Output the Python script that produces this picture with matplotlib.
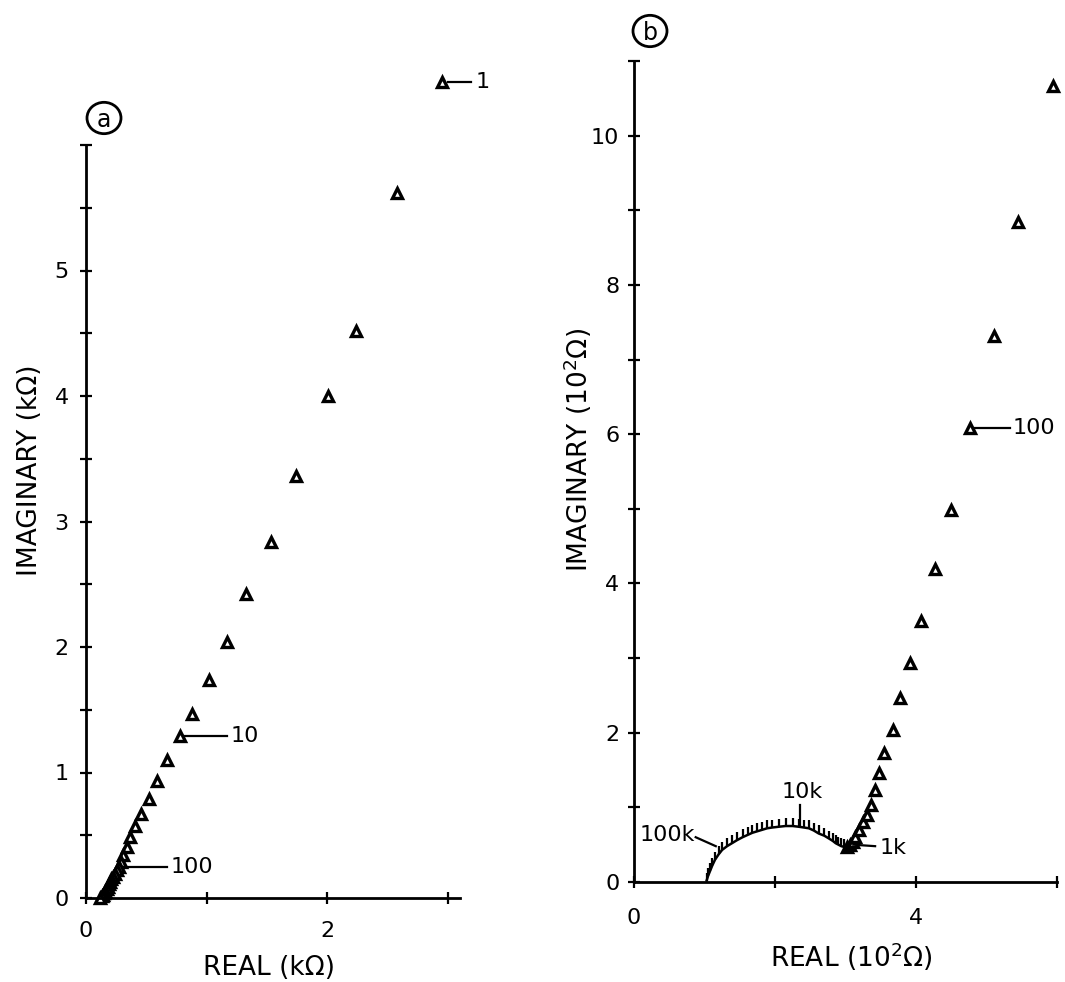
import numpy as np
import matplotlib
matplotlib.use("Agg")
import matplotlib.pyplot as plt
from matplotlib.patches import Circle

plt.rcParams['font.family'] = ['DejaVu Sans']

# panel (a): impedance in kOhm
a_re = [2.95, 2.58, 2.24, 2.01, 1.74, 1.53, 1.33, 1.17, 1.02, 0.88, 0.78, 0.675,
        0.59, 0.52, 0.46, 0.41, 0.365, 0.34, 0.31, 0.29, 0.27, 0.255, 0.24, 0.225,
        0.21, 0.20, 0.19, 0.18, 0.17, 0.16, 0.15, 0.14, 0.13, 0.12]
a_im = [6.50, 5.62, 4.52, 4.00, 3.36, 2.84, 2.42, 2.04, 1.74, 1.47, 1.29, 1.10,
        0.93, 0.79, 0.67, 0.57, 0.49, 0.41, 0.34, 0.29, 0.25, 0.22, 0.19, 0.17,
        0.15, 0.13, 0.11, 0.09, 0.07, 0.055, 0.04, 0.025, 0.012, 0.0]

# panel (b): impedance in 10^2 Ohm, high-frequency arc then low-frequency tail
b_arc_re = [1.03, 1.05, 1.08, 1.11, 1.15, 1.20, 1.25, 1.32, 1.39, 1.46, 1.54, 1.61,
            1.68, 1.75, 1.82, 1.89, 1.96, 2.05, 2.15, 2.25, 2.34, 2.41, 2.48, 2.55,
            2.62, 2.70, 2.77, 2.82, 2.86, 2.90, 2.94, 2.98]
b_arc_im = [0.02, 0.08, 0.15, 0.22, 0.30, 0.37, 0.43, 0.48, 0.52, 0.56, 0.60, 0.63,
            0.66, 0.68, 0.70, 0.72, 0.73, 0.74, 0.75, 0.75, 0.74, 0.73, 0.72, 0.69,
            0.65, 0.62, 0.58, 0.55, 0.52, 0.50, 0.48, 0.47]
b_tail_re = [3.02, 3.06, 3.10, 3.14, 3.19, 3.25, 3.30, 3.36, 3.42, 3.48, 3.55, 3.67,
             3.77, 3.92, 4.07, 4.27, 4.50, 4.77, 5.10, 5.45, 5.94]
b_tail_im = [0.47, 0.49, 0.53, 0.60, 0.70, 0.80, 0.90, 1.03, 1.23, 1.46, 1.73, 2.04,
             2.46, 2.93, 3.50, 4.19, 4.99, 6.08, 7.32, 8.84, 10.67]

W, H = 1065, 982
fig = plt.figure(figsize=(W / 100, H / 100), dpi=100)


def px_axes(left, right, bottom, top):
    return fig.add_axes([left / W, 1 - bottom / H, (right - left) / W, (bottom - top) / H])


def style(ax):
    for s in ['top', 'right']:
        ax.spines[s].set_visible(False)
    for s in ['left', 'bottom']:
        ax.spines[s].set_linewidth(2)
    ax.tick_params(direction='inout', length=9, width=1.6, labelsize=16)


tri = dict(marker='^', ms=7.5, mfc='white', mec='black', mew=2.4, ls='none', clip_on=False)
lab = dict(fontsize=16)
lk = dict(color='black', lw=1.6, clip_on=False)

# ---- panel a
ax1 = px_axes(86, 460, 898, 145)
style(ax1)
ax1.set_xlim(0, 3.1)
ax1.set_ylim(0, 6)
ax1.plot(a_re, a_im, **tri)
ax1.set_xticks([0, 1, 2, 3])
ax1.set_xticklabels(['0', '', '2', ''])
yt = np.arange(0, 6.01, 0.5)
ax1.set_yticks(yt)
ax1.set_yticklabels([str(int(v)) if v == int(v) and v < 6 else '' for v in yt])
ax1.tick_params(axis='x', pad=12)
ax1.tick_params(axis='y', pad=8)
ax1.plot([3.00, 3.19], [6.5, 6.5], **lk)
ax1.text(3.23, 6.5, '1', va='center', **lab)
ax1.plot([0.81, 1.17], [1.29, 1.29], **lk)
ax1.text(1.20, 1.29, '10', va='center', **lab)
ax1.plot([0.30, 0.67], [0.25, 0.25], **lk)
ax1.text(0.70, 0.25, '100', va='center', **lab)
fig.text(269 / W, 1 - 968 / H, 'REAL (k\u03a9)', ha='center', va='center', fontsize=19)
fig.text(30 / W, 1 - 470 / H, 'IMAGINARY (k\u03a9)', ha='center', va='center',
         rotation=90, fontsize=19)

# ---- panel b
ax2 = px_axes(634, 1057, 882, 61)
style(ax2)
ax2.set_xlim(0, 6)
ax2.set_ylim(0, 11)
# arc drawn as a line with small upward ticks, like the original
ax2.plot(b_arc_re, b_arc_im, color='black', lw=1.8)
ax2.plot(b_arc_re, b_arc_im, marker=2, ms=6, mec='black', mew=1.6, ls='none')
ax2.plot(b_tail_re, b_tail_im, **tri)
ax2.set_xticks([0, 2, 4, 6])
ax2.set_xticklabels(['0', '', '4', ''])
ax2.set_yticks(range(0, 12))
ax2.set_yticklabels([str(v) if v % 2 == 0 and v < 11 else '' for v in range(0, 12)])
ax2.tick_params(axis='x', pad=14)
ax2.tick_params(axis='y', pad=6)
ax2.plot([4.84, 5.33], [6.08, 6.08], **lk)
ax2.text(5.37, 6.08, '100', va='center', **lab)
ax2.plot([3.11, 3.42], [0.50, 0.48], **lk)
ax2.text(3.48, 0.46, '1k', va='center', **lab)
ax2.plot([2.36, 2.36], [0.75, 1.03], **lk)
ax2.text(2.38, 1.21, '10k', ha='center', va='center', **lab)
ax2.plot([0.875, 1.16], [0.60, 0.48], **lk)
ax2.text(0.86, 0.63, '100k', ha='right', va='center', **lab)
fig.text(851 / W, 1 - 957 / H, 'REAL (10$^2$\u03a9)', ha='center', va='center', fontsize=19)
fig.text(578 / W, 1 - 450 / H, 'IMAGINARY (10$^2$\u03a9)', ha='center', va='center',
         rotation=90, fontsize=19)

# panel tags
for cx, cy, t in [(104, 118, 'a'), (650, 31, 'b')]:
    fig.patches.append(Circle((cx / W, 1 - cy / H), 17 / W, transform=fig.transFigure,
                              fill=False, lw=2, ec='black'))
    fig.text(cx / W, 1 - cy / H - 0.002, t, ha='center', va='center', fontsize=17)

fig.savefig('out.png', dpi=100, facecolor='white')
